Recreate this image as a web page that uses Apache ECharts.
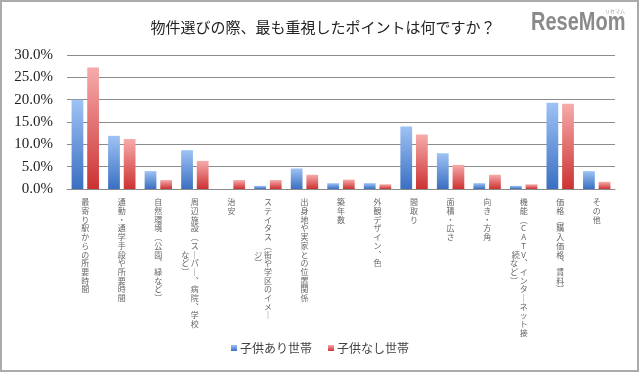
<!DOCTYPE html>
<html>
<head>
<meta charset="utf-8">
<script src="https://cdn.jsdelivr.net/npm/echarts@6/dist/echarts.min.js"></script>
<style>
html,body{margin:0;padding:0;background:#fff;}
#c{width:640px;height:374px;}
</style>
</head>
<body>
<div id="c"></div>
<script>
const titleText = '物件選びの際、最も重視したポイントは何ですか？';
const categories = [
  '最寄り駅からの所要時間',
  '通勤・通学手段や所要時間',
  '自然環境（公園、緑など）',
  '周辺施設（スーパー、病院、学校など）',
  '治安',
  'ステイタス（街や学区のイメージ）',
  '出身地や実家との位置関係',
  '築年数',
  '外観デザイン、色',
  '間取り',
  '面積・広さ',
  '向き・方角',
  '機能（CATV、インターネット接続など）',
  '価格（購入価格、賃料）',
  'その他'
];
const seriesNames = ['子供あり世帯', '子供なし世帯'];
const withChildren    = [20.0, 11.9, 4.0, 8.7, 0.0, 0.7, 4.6, 1.3, 1.3, 14.0, 8.0, 1.3, 0.7, 19.3, 4.0];
const withoutChildren = [27.2, 11.2, 2.0, 6.3, 2.0, 2.0, 3.2, 2.1, 1.05, 12.2, 5.4, 3.2, 1.05, 19.1, 1.6];
const yTicks = [0, 5, 10, 15, 20, 25, 30];

// first-column length (in characters) for labels that wrap into a second column
const wrapAt = {
  '周辺施設（スーパー、病院、学校など）': 15,
  'ステイタス（街や学区のイメージ）': 14,
  '機能（CATV、インターネット接続など）': 16
};
const vmap = {'（':'︵','）':'︶','、':'︑','ー':'｜'};
function toVertical(s){ return Array.from(s).map(c => vmap[c] || c); }
function labelFormatter(name){
  const chars = Array.from(name);
  const cut = wrapAt[name] || chars.length;
  const main = toVertical(chars.slice(0, cut).join(''));
  const sec = toVertical(chars.slice(cut).join(''));
  if (!sec.length) return main.join('\n');
  const off = Math.floor((main.length - sec.length) / 2);
  const lines = main.map((c, i) => {
    const j = i - off;
    if (j >= 0 && j < sec.length) return sec[j] + '\u2009' + c + '\u2009\u3000';
    return c;
  });
  return lines.join('\n');
}

const chart = echarts.init(document.getElementById('c'), null, {renderer:'canvas'});
const jp = '"Noto Sans CJK JP", sans-serif';
function grad(top, bottom){
  return new echarts.graphic.LinearGradient(0,0,0,1,[{offset:0,color:top},{offset:1,color:bottom}]);
}
chart.setOption({
  animation:false,
  backgroundColor:'#fff',
  title:{
    text:titleText, left:318, top:15, textAlign:'center',
    textStyle:{fontFamily:jp, fontSize:15, fontWeight:'normal', color:'#222'}
  },
  legend:{
    data:seriesNames, bottom:15, left:'center', itemWidth:6, itemHeight:6, itemGap:16,
    icon:'rect',
    textStyle:{fontFamily:jp, fontSize:12, color:'#444', padding:[0,0,0,-2]}
  },
  grid:{left:67, right:25, top:55, bottom:185, containLabel:false},
  xAxis:{
    type:'category', data:categories,
    axisLine:{show:true, lineStyle:{color:'#8a8a8a', width:1}},
    axisTick:{show:false},
    axisLabel:{
      interval:0, margin:9, formatter:labelFormatter, align:'center', verticalAlign:'top',
      fontFamily:jp, fontSize:8, lineHeight:8.7, color:'#666'
    }
  },
  yAxis:{
    type:'value', min:yTicks[0], max:yTicks[yTicks.length-1], interval:5,
    axisLine:{show:false}, axisTick:{show:false},
    splitLine:{lineStyle:{color:'#8c8c8c', width:1}},
    axisLabel:{
      formatter:v => v.toFixed(1) + '%', margin:14,
      fontFamily:'"Liberation Serif", serif', fontSize:15, color:'#222'
    }
  },
  series:[
    {name:seriesNames[0], type:'bar', data:withChildren, barGap:'33%', barCategoryGap:'25%',
     itemStyle:{color:grad('#9ec2f4','#3a6fc2')}},
    {name:seriesNames[1], type:'bar', data:withoutChildren,
     itemStyle:{color:grad('#f7abab','#cc3232')}}
  ],
  graphic:[
    {type:'rect', shape:{x:1, y:1, width:637, height:370}, style:{fill:null, stroke:'#ababab', lineWidth:2}, silent:true},
    {type:'text', x:531, y:11, scaleX:0.8, style:{text:'ReseMom', fontFamily:'"Liberation Sans",sans-serif', fontWeight:'bold', fontSize:25, fill:'#8a8a8a'}},
    {type:'text', x:605, y:9, style:{text:'リセマム', fontFamily:jp, fontSize:5, fill:'#999'}}
  ]
});
</script>
</body>
</html>
